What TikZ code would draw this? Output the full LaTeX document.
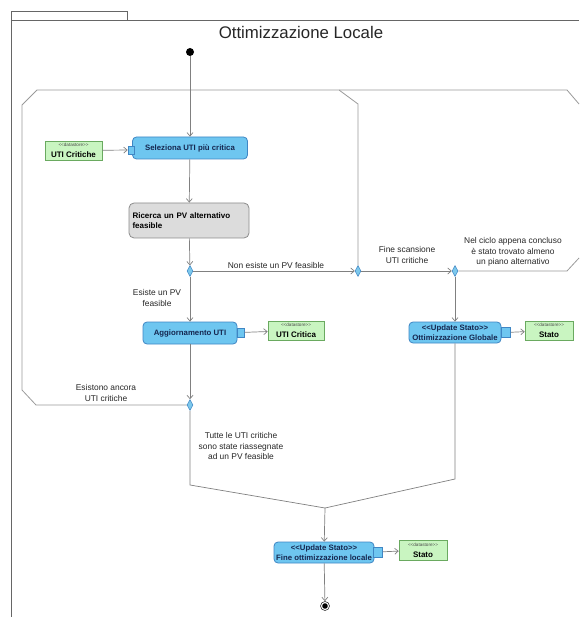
\documentclass[tikz,border=0pt]{standalone}
\usepackage{fontspec}
\setmainfont{Liberation Sans}
\usetikzlibrary{shapes.geometric,arrows.meta}
\definecolor{actfill}{HTML}{6EC6F0}
\definecolor{actdraw}{HTML}{3F86C4}
\definecolor{acttext}{HTML}{15264F}
\definecolor{ricfill}{HTML}{DCDCDC}
\definecolor{ricdraw}{HTML}{8C8C8C}
\definecolor{dsfill}{HTML}{C9F5C1}
\definecolor{dsdraw}{HTML}{6AAA60}
\definecolor{flowc}{HTML}{808080}
\definecolor{regc}{HTML}{9A9A9A}
\definecolor{diafill}{HTML}{7CC8EC}
\newcommand\stLT{<\kern0pt<}
\newcommand\stGT{>\kern0pt>}
\newcommand\dsname[1]{{\fontsize{4.6}{5}\selectfont\color{black!70}\stLT datastore\stGT}\\[-0.8pt]{\fontsize{8}{9}\selectfont\bfseries #1}}
\begin{document}
\begin{tikzpicture}[x=1pt,y=-1pt,
  act/.style={draw=actdraw, fill=actfill, rounded corners=4pt, line width=0.8pt,
    text=acttext, font=\fontsize{7.8}{9.6}\selectfont\bfseries, inner sep=0pt, align=center},
  ricbox/.style={draw=ricdraw, fill=ricfill, rounded corners=5pt, line width=0.8pt,
    text=black, font=\fontsize{8}{10}\selectfont\bfseries, inner sep=0pt, align=left},
  dstore/.style={draw=dsdraw, fill=dsfill, line width=0.6pt, inner sep=0pt, align=center,
    text=black},
  pinbox/.style={draw=actdraw, fill=actfill, line width=0.6pt, inner sep=0pt,
    minimum width=7pt, minimum height=9pt},
  dia/.style={diamond, draw=actdraw, fill=diafill, line width=0.5pt, inner sep=0pt,
    minimum width=6pt, minimum height=11pt},
  flow/.style={draw=flowc, line width=0.7pt, -{Straight Barb[length=3.5pt,width=6pt]}},
  plain/.style={draw=flowc, line width=0.7pt},
  region/.style={draw=regc, line width=0.8pt},
  lbl/.style={font=\fontsize{8.4}{10.2}\selectfont, text=black!85, align=center, inner sep=0pt},
  frame/.style={draw=black!60, line width=0.6pt}
]
\useasboundingbox (0,0) rectangle (579,617);

% frame
\draw[frame] (11,617) -- (11,11) -- (127,11) -- (127,20);
\draw[frame] (11,20) -- (579,20);
\node[font=\fontsize{16.8}{19}\selectfont, text=black!85] (title) at (301,32) {Ottimizzazione Locale};

% initial / final
\node[circle, fill=black, minimum size=8pt, inner sep=0pt] (init) at (190,52) {};
\node[circle, draw=black!80, fill=white, minimum size=9pt, inner sep=0pt, line width=0.6pt] (final) at (325,606) {};
\fill[black] (final.center) circle (2.8pt);

% actions
\node[act, minimum width=115pt, minimum height=22pt] (sel) at (190,148) {Seleziona UTI più critica};
\node[ricbox, minimum width=120pt, minimum height=35pt, text width=113pt] (ric) at (189,220.5) {Ricerca un PV alternativo\\feasible};
\node[act, minimum width=94pt, minimum height=22pt] (agg) at (190,333) {Aggiornamento UTI};
\node[act, minimum width=92pt, minimum height=21pt] (og) at (455,332.5) {\stLT Update Stato\stGT\\Ottimizzazione Globale};
\node[act, minimum width=100pt, minimum height=21pt] (fine) at (324,552.5) {\stLT Update Stato\stGT\\Fine ottimizzazione locale};

% pins
\node[pinbox, minimum width=6pt, minimum height=8pt] (pin1) at (131,150) {};
\node[pinbox] (pin2) at (240.5,332.5) {};
\node[pinbox, minimum width=9pt, minimum height=10pt] (pin3) at (506,332.5) {};
\node[pinbox, minimum width=9pt, minimum height=10pt] (pin4) at (378,552) {};

% datastores
\node[dstore, minimum width=57pt, minimum height=19pt] (dsA) at (73.5,150.5) {\dsname{UTI Critiche}};
\node[dstore, minimum width=56pt, minimum height=19pt] (dsB) at (296,330.5) {\dsname{UTI Critica}};
\node[dstore, minimum width=48pt, minimum height=19pt] (dsC) at (549,330.5) {\dsname{Stato}};
\node[dstore, minimum width=48pt, minimum height=20pt] (dsD) at (423,550) {\dsname{Stato}};

% decision / merge nodes
\node[dia] (d1) at (190,271) {};
\node[dia] (d2) at (358,271) {};
\node[dia] (d3) at (455,271) {};
\node[dia] (d4) at (190,405) {};
\coordinate (merge) at (325,508);
\coordinate (c1) at (190,485);
\coordinate (c2) at (455,479);

% regions
\draw[region] (d2.north) -- (358,104) -- (339,90) -- (37,90) -- (22,105) -- (22,390) -- (36,405) -- (d4.west);
\draw[region] (339,90) -- (567,90) -- (579,104);
\draw[region] (d3.east) -- (567,271) -- (579,258);

% flows
\draw[flow] (init) -- (sel);
\draw[flow] (dsA) -- (pin1);
\draw[flow] (sel) -- (ric);
\draw[flow] (ric) -- (d1);
\draw[flow] (d1) -- (d2);
\draw[flow] (d2) -- (d3);
\draw[flow] (d1) -- (agg);
\draw[flow] (pin2) -- (dsB);
\draw[flow] (agg) -- (d4);
\draw[plain] (d4) -- (c1) -- (merge);
\draw[flow] (d3) -- (og);
\draw[flow] (pin3) -- (dsC);
\draw[plain] (og) -- (c2) -- (merge);
\draw[flow] (merge) -- (fine);
\draw[flow] (pin4) -- (dsD);
\draw[flow] (fine) -- (final);

% labels
\node[lbl] (l1) at (276,265) {Non esiste un PV feasible};
\node[lbl] (l2) at (407,255) {Fine scansione\\UTI critiche};
\node[lbl] (l3) at (513,252) {Nel ciclo appena concluso\\è stato trovato almeno\\un piano alternativo};
\node[lbl] (l4) at (157,298) {Esiste un PV\\feasible};
\node[lbl] (l5) at (106,393) {Esistono ancora\\UTI critiche};
\node[lbl] (l6) at (241,446) {Tutte le UTI critiche\\sono state riassegnate\\ad un PV feasible};
\end{tikzpicture}
\end{document}
